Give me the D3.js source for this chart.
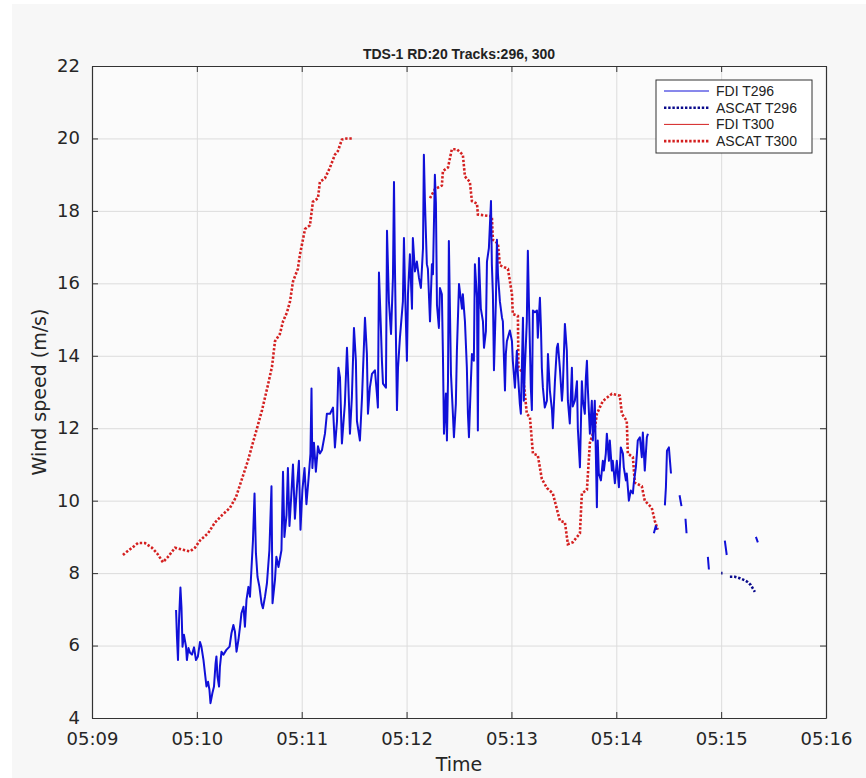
<!DOCTYPE html>
<meta charset="utf-8">
<style>
  body { margin: 0; background: #fff; }
  svg { display: block; font-family: "DejaVu Sans", sans-serif; }
</style>
<svg width="866" height="778"></svg>
<script src="https://d3js.org/d3.v7.min.js"></script>
<script>

    var svg = d3.select("svg"),
        width = +svg.attr("width"),
        height = +svg.attr("height");

    /* --------------------
     Data (time = seconds after 05:09:00, speed in m/s)
   -------------------- */

    var xTickLabels = ["05:09", "05:10", "05:11", "05:12", "05:13", "05:14", "05:15", "05:16"];
    var yTickValues = [4, 6, 8, 10, 12, 14, 16, 18, 20, 22];

    var fdiT296 = [
        [48.1,6.98],[48.6,6.25],[49.2,5.6],[49.8,6.7],[50.6,7.6],[51.2,7.05],[51.8,5.97],[52.6,6.3],[53.8,5.97],[54.3,5.6],
        [55.2,5.93],[56.1,5.8],[57.2,5.75],[58.4,5.95],[59.5,5.6],[60.6,5.7],[61.8,6.1],[62.6,5.97],[63.8,5.6],[64.6,5.25],
        [65.5,4.87],[66.4,5.0],[67.2,4.78],[67.8,4.41],[68.9,4.69],[69.8,4.87],[70.7,5.5],[71.2,5.7],[71.8,5.15],[72.7,4.87],
        [73.2,5.42],[74.1,5.83],[75.2,5.75],[76.9,5.88],[78.7,5.97],[79.8,6.34],[80.9,6.57],[81.8,6.38],[82.7,5.83],[83.8,6.16],
        [84.7,6.52],[85.5,6.89],[86.7,7.07],[87.5,6.52],[88.4,7.26],[89.5,7.62],[90.4,7.35],[91.2,8.08],[92.1,8.9],[93.0,10.2],
        [93.8,8.55],[94.7,7.9],[95.8,7.62],[97.0,7.17],[97.8,7.03],[99.0,7.35],[100.1,7.72],[101.5,8.63],[102.7,10.4],[103.3,7.17],
        [104.7,7.81],[105.5,8.45],[106.7,8.17],[108.4,8.63],[109.3,10.8],[110.1,9.0],[111.3,9.6],[112.1,10.9],[113.0,9.3],[114.1,10.2],
        [115.0,11.0],[116.1,9.5],[117.3,10.4],[118.4,11.1],[119.3,9.2],[120.4,10.3],[121.6,10.9],[122.7,9.9],[123.9,10.6],[125.0,11.3],
        [125.6,13.1],[126.1,10.9],[127.0,11.6],[128.1,10.8],[129.3,11.5],[130.4,11.3],[131.6,11.4],[133.3,11.85],[134.4,12.4],[136.2,12.4],
        [137.9,12.57],[139.0,11.47],[140.2,12.2],[141.0,13.67],[141.9,13.4],[143.0,11.58],[144.7,12.68],[145.9,14.22],[146.5,13.5],[147.6,11.85],
        [148.7,12.85],[149.9,14.77],[151.0,13.86],[151.6,12.2],[153.3,11.66],[154.5,12.85],[155.0,13.5],[156.2,15.05],[157.3,14.05],[157.9,12.4],
        [159.0,13.12],[160.2,13.5],[161.9,13.6],[163.0,12.96],[163.6,12.57],[164.2,16.3],[165.3,14.77],[165.9,13.86],[166.5,13.23],[168.2,13.12],
        [168.8,17.45],[169.9,15.5],[171.1,14.6],[172.2,16.15],[172.8,18.8],[173.3,16.6],[174.5,12.5],[175.1,13.67],[176.2,14.5],[177.9,15.5],
        [178.5,17.25],[179.1,15.87],[180.2,13.86],[180.8,15.7],[181.9,16.8],[183.1,15.3],[183.6,17.25],[184.8,16.33],[185.9,16.6],[187.1,16.15],
        [188.2,15.87],[189.4,16.97],[189.9,19.55],[190.5,18.27],[191.6,16.53],[192.2,16.4],[193.4,14.95],[194.5,16.53],[195.1,16.25],[196.2,19.0],
        [196.8,18.2],[197.4,15.4],[198.5,14.77],[199.1,15.87],[200.2,15.7],[200.8,14.05],[201.4,11.85],[202.5,12.96],[203.1,11.66],[203.7,13.3],
        [204.2,17.17],[205.4,13.5],[206.5,12.4],[207.1,11.75],[208.2,12.68],[208.8,14.14],[210.0,15.98],[211.7,15.3],[212.2,15.7],[213.4,14.95],
        [214.5,13.67],[215.1,12.4],[215.7,11.75],[216.8,13.3],[217.4,14.05],[218.5,13.86],[219.1,16.53],[220.3,15.6],[220.8,11.94],[221.4,16.7],
        [222.5,15.3],[223.7,14.95],[224.3,14.22],[225.4,14.68],[226.0,16.6],[227.1,16.97],[228.3,18.27],[228.8,16.53],[229.4,15.7],[230.0,13.6],
        [231.1,15.5],[231.7,17.2],[232.3,16.25],[233.4,15.5],[234.6,15.05],[235.1,14.95],[235.7,13.95],[236.3,13.04],[236.8,14.05],[237.4,14.4],
        [239.1,14.7],[240.3,14.4],[240.8,13.86],[242.0,13.12],[243.1,14.14],[243.7,13.5],[244.8,12.68],[245.4,12.4],[246.6,15.05],[247.1,12.76],
        [247.7,13.67],[248.8,14.95],[249.4,16.9],[250.0,15.5],[251.1,13.12],[251.7,12.5],[252.3,15.25],[253.4,15.2],[254.6,15.25],[255.1,14.5],
        [256.3,15.6],[256.9,14.77],[257.4,13.67],[258.0,13.12],[259.1,12.57],[260.3,12.76],[260.9,14.05],[262.0,13.04],[263.2,12.5],[263.7,12.0],
        [264.9,13.3],[266.0,14.22],[266.6,14.33],[267.7,13.67],[268.9,12.76],[269.4,13.12],[270.6,14.88],[271.7,14.14],[272.3,12.76],[273.4,12.13],
        [274.6,13.67],[275.1,12.6],[276.3,12.76],[277.5,13.3],[278.0,12.0],[279.2,10.92],[280.3,13.3],[280.9,12.76],[282.0,12.4],[282.6,13.4],
        [283.2,13.86],[283.7,13.12],[284.9,11.85],[286.0,12.76],[286.6,11.66],[287.7,12.76],[288.9,9.82],[289.4,11.66],[290.0,10.75],[291.2,10.56],
        [292.3,11.1],[292.9,10.83],[294.0,11.3],[294.6,11.85],[295.8,11.1],[296.3,11.66],[297.5,10.83],[298.0,11.1],[299.2,10.48],[300.3,11.1],
        [301.5,10.37],[302.6,11.47],[303.8,11.3],[304.3,10.92],[305.5,10.56],[306.0,10.75],[307.2,10.0],[308.3,10.28],[309.5,10.2],[310.0,10.48],
        [311.2,10.92],[311.8,11.3],[312.3,11.66],[313.5,11.75],[314.6,11.2],[315.2,11.88],[316.3,10.83],[317.5,11.75],[318.1,11.85],
        null,
        [321.5,9.1],[322.6,9.3],[323.2,9.2],
        null,
        [327.8,9.87],[328.4,10.37],[329.0,11.38],[330.1,11.47],[331.3,10.75],
        null,
        [336.2,10.15],[337.3,9.85],
        null,
        [339.6,9.5],[340.2,9.1],
        null,
        [352.4,8.45],[353.0,8.1],
        null,
        [362.1,8.9],[363.2,8.5],
        null,
        [379.9,9.0],[381.0,8.85]
    ];

    var ascatT296 = [
        [360.0,8.0],[360.8,8.0],
        null,
        [365.0,7.9],[367.8,7.9],[370.7,7.86],[373.6,7.8],[375.3,7.75],[377.0,7.67],[378.1,7.58],[379.3,7.48]
    ];

    var fdiT300 = [];

    var ascatT300 = [
        [17.7,8.5],[18.9,8.55],[22.9,8.7],[26.3,8.83],[30.3,8.83],[34.3,8.7],[37.2,8.55],[40.6,8.3],[43.5,8.45],[47.5,8.7],
        [51.5,8.65],[56.1,8.6],[58.9,8.7],[61.8,8.9],[66.4,9.1],[70.4,9.4],[74.4,9.6],[78.9,9.8],[82.4,10.1],[85.8,10.6],
        [89.2,11.1],[91.5,11.5],[95.0,12.1],[97.3,12.5],[100.7,13.2],[103.0,13.7],[104.7,14.4],[107.5,14.6],[109.3,14.95],[111.6,15.2],
        [113.3,15.5],[115.0,16.05],[117.8,16.4],[119.0,16.8],[121.9,17.5],[124.7,17.6],[126.4,18.25],[129.3,18.35],[130.4,18.8],[133.3,18.9],
        [136.2,19.2],[139.0,19.55],[140.7,19.65],[143.0,19.97],[145.9,20.0],[148.7,20.0],
        null,
        [193.4,18.35],[196.2,18.6],[200.2,18.7],[200.8,19.1],[203.7,19.2],[205.9,19.7],[208.8,19.7],[212.2,19.55],[213.4,18.95],[216.2,18.8],
        [217.4,18.27],[220.3,18.2],[220.8,17.9],[228.8,17.85],[229.4,17.2],[232.3,17.1],[233.4,16.5],[238.0,16.4],[240.3,15.7],[240.8,15.15],
        [243.7,15.1],[244.0,13.7],[246.6,13.5],[248.8,12.4],[250.6,12.3],[252.3,11.3],[255.1,11.25],[257.4,10.6],[260.3,10.35],[263.7,10.2],
        [267.7,9.45],[270.6,9.4],[272.3,8.8],[275.1,8.85],[279.2,9.1],[280.3,10.2],[283.2,10.3],[284.9,11.6],[287.7,12.0],[288.9,12.4],
        [292.3,12.75],[297.5,12.95],[302.0,12.9],[303.2,12.4],[306.0,12.2],[306.6,11.3],[309.5,11.2],[310.6,10.5],[314.6,10.4],[316.3,10.0],
        [320.3,9.8],[322.0,9.45],[323.7,9.2]
    ];

    var seriesNames = ["FDI T296", "ASCAT T296", "FDI T300", "ASCAT T300"];

    /* --------------------
     Layout
   -------------------- */

    var margin = {top: 66, right: 40, bottom: 60, left: 92},
        w = width - margin.left - margin.right,
        h = height - margin.top - margin.bottom;

    var parse = d3.timeParse("%H:%M"),
        t0 = parse(xTickLabels[0]),
        toDate = function(s) { return new Date(+t0 + s * 1000); };

    var x = d3.scaleTime()
        .domain([t0, parse(xTickLabels[xTickLabels.length - 1])])
        .range([margin.left, margin.left + w]);

    var y = d3.scaleLinear()
        .domain([yTickValues[0], yTickValues[yTickValues.length - 1]])
        .range([margin.top + h, margin.top]);

    // figure background (white strip on left/top like the screenshot)
    svg.append("rect").attr("width", width).attr("height", height).attr("fill", "#ffffff");
    svg.append("rect").attr("x", 12).attr("y", 4).attr("width", width - 12).attr("height", height - 4).attr("fill", "#f7f7f7");
    svg.append("rect").attr("x", margin.left).attr("y", margin.top).attr("width", w).attr("height", h).attr("fill", "#fbfbfb");

    // grid
    svg.append("g")
        .attr("transform", "translate(0," + (margin.top + h) + ")")
        .call(d3.axisBottom(x).tickValues(xTickLabels.map(parse)).tickSize(-h).tickFormat(""))
        .call(function(g) { g.select(".domain").remove(); })
        .selectAll("line").attr("stroke", "#dcdcdc");

    svg.append("g")
        .attr("transform", "translate(" + margin.left + ",0)")
        .call(d3.axisLeft(y).tickValues(yTickValues).tickSize(-w).tickFormat(""))
        .call(function(g) { g.select(".domain").remove(); })
        .selectAll("line").attr("stroke", "#dcdcdc");

    // data lines
    var line = d3.line()
        .defined(function(d) { return d; })
        .x(function(d) { return x(toDate(d[0])); })
        .y(function(d) { return y(d[1]); });

    var plot = svg.append("g");

    plot.append("path").datum(ascatT300)
        .attr("d", line).attr("fill", "none")
        .attr("stroke", "#d42020").attr("stroke-width", 2.6).attr("stroke-dasharray", "2.4,1.8");

    plot.append("path").datum(fdiT300)
        .attr("d", line).attr("fill", "none")
        .attr("stroke", "#d42020").attr("stroke-width", 1);

    plot.append("path").datum(fdiT296)
        .attr("d", line).attr("fill", "none")
        .attr("stroke", "#1010d8").attr("stroke-width", 2).attr("stroke-linejoin", "round");

    plot.append("path").datum(ascatT296)
        .attr("d", line).attr("fill", "none")
        .attr("stroke", "#0a0a8c").attr("stroke-width", 2.6).attr("stroke-dasharray", "2.4,1.8");

    // axes box with inward ticks
    var axisColor = "#333";

    var gx = svg.append("g")
        .attr("transform", "translate(0," + (margin.top + h) + ")")
        .call(d3.axisBottom(x).tickValues(xTickLabels.map(parse))
            .tickFormat(d3.timeFormat("%H:%M")).tickSizeInner(-6).tickSizeOuter(0).tickPadding(14));
    var gy = svg.append("g")
        .attr("transform", "translate(" + margin.left + ",0)")
        .call(d3.axisLeft(y).tickValues(yTickValues).tickSizeInner(-6).tickSizeOuter(0).tickPadding(12));
    var gt = svg.append("g")
        .attr("transform", "translate(0," + margin.top + ")")
        .call(d3.axisTop(x).tickValues(xTickLabels.map(parse)).tickFormat("").tickSizeInner(-6).tickSizeOuter(0));
    var gr = svg.append("g")
        .attr("transform", "translate(" + (margin.left + w) + ",0)")
        .call(d3.axisRight(y).tickValues(yTickValues).tickFormat("").tickSizeInner(-6).tickSizeOuter(0));

    [gx, gy, gt, gr].forEach(function(g) {
        g.select(".domain").attr("stroke", axisColor).attr("stroke-width", 1.2);
        g.selectAll(".tick line").attr("stroke", axisColor);
        g.selectAll(".tick text").attr("fill", "#262626")
            .style("font-family", "'DejaVu Sans', sans-serif").style("font-size", "18px");
    });
    gy.selectAll(".tick text").attr("dy", "0.3em");

    // labels
    svg.append("text")
        .attr("x", margin.left + w / 2).attr("y", 59)
        .attr("text-anchor", "middle")
        .style("font-family", "'Liberation Sans', sans-serif").style("font-weight", "bold").style("font-size", "14px")
        .attr("fill", "#222")
        .text("TDS-1 RD:20 Tracks:296, 300");

    svg.append("text")
        .attr("x", margin.left + w / 2).attr("y", 771)
        .attr("text-anchor", "middle")
        .style("font-family", "'DejaVu Sans', sans-serif").style("font-size", "19px")
        .attr("fill", "#262626")
        .text("Time");

    svg.append("text")
        .attr("transform", "translate(46," + (margin.top + h / 2) + ") rotate(-90)")
        .attr("text-anchor", "middle")
        .style("font-family", "'DejaVu Sans', sans-serif").style("font-size", "19px")
        .attr("fill", "#262626")
        .text("Wind speed (m/s)");

    // legend
    var legendStyles = [
        {color: "#1010d8", width: 1, dash: null},
        {color: "#0a0a8c", width: 2.6, dash: "2.4,1.8"},
        {color: "#d42020", width: 1, dash: null},
        {color: "#d42020", width: 2.6, dash: "2.4,1.8"}
    ];

    var legend = svg.append("g").attr("transform", "translate(656,80)");
    legend.append("rect")
        .attr("width", 156).attr("height", 73)
        .attr("fill", "#ffffff").attr("stroke", "#333").attr("stroke-width", 1);

    var item = legend.selectAll(".item")
        .data(seriesNames)
        .enter().append("g")
        .attr("class", "item")
        .attr("transform", function(d, i) { return "translate(0," + (11 + i * 16.7) + ")"; });

    item.append("line")
        .attr("x1", 8).attr("x2", 53)
        .attr("stroke", function(d, i) { return legendStyles[i].color; })
        .attr("stroke-width", function(d, i) { return legendStyles[i].width; })
        .attr("stroke-dasharray", function(d, i) { return legendStyles[i].dash; });

    item.append("text")
        .attr("x", 60).attr("dy", "0.36em")
        .style("font-family", "'Liberation Sans', sans-serif").style("font-size", "14px")
        .attr("fill", "#222")
        .text(function(d) { return d; });

</script>
